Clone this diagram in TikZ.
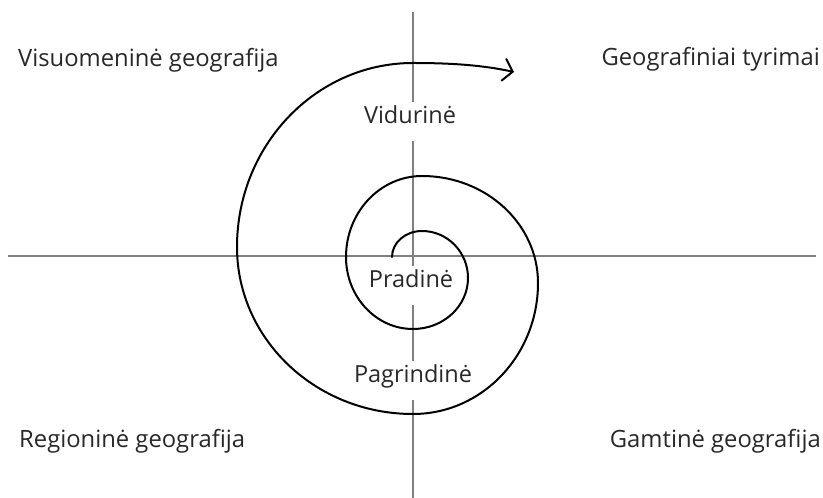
\documentclass[tikz,border=0pt]{standalone}
\usepackage{fontspec}
\setmainfont{Open Sans}
\usetikzlibrary{arrows.meta}
\definecolor{axisgray}{RGB}{128,128,128}
\definecolor{txt}{RGB}{40,40,40}
\begin{document}
\begin{tikzpicture}[x=1pt,y=1pt,
  axis/.style={draw=axisgray,line width=1.6pt},
  corner/.style={text=txt,font=\fontsize{23.8}{28}\selectfont,inner sep=0pt},
  level/.style={text=txt,font=\fontsize{23.5}{28}\selectfont,fill=white,inner xsep=4pt,inner ysep=5pt,text height=17pt,text depth=12pt},
  spiral/.style={draw=black,line width=2pt}
]
\useasboundingbox (0,0) rectangle (823,498);
% axes
\coordinate (hl) at (8,242);
\coordinate (hr) at (816,242);
\coordinate (vt) at (413,486);
\coordinate (vb) at (413,0);
\draw[axis] (hl) -- (hr);
\draw[axis] (vt) -- (vb);
% corner labels
\node[corner,anchor=base west] (vis) at (18,431) {Visuomeninė geografija};
\node[corner,anchor=base east] (geo) at (820,432) {Geografiniai tyrimai};
\node[corner,anchor=base west] (reg) at (19,50) {Regioninė geografija};
\node[corner,anchor=base east] (gam) at (821,50) {Gamtinė geografija};
% level labels
\node[level,anchor=base] (vid) at (410,374) {Vidurinė};
\node[level,anchor=base] (pra) at (411,210.3) {Pradinė};
\node[level,anchor=base] (pag) at (413,115) {Pagrindinė};
\draw[axis] (hl) -- (hr);
% spiral
\coordinate (s) at (392,241);
\coordinate (e) at (514,426);
\draw[spiral,-{Straight Barb[length=9pt,width=22pt,line cap=round]},line cap=round]
  (s) arc[start angle=180,end angle=90,x radius=30,y radius=26]
      arc[start angle=90,end angle=0,x radius=46,y radius=47]
      arc[start angle=0,end angle=-90,x radius=55,y radius=51]
      arc[start angle=-90,end angle=-180,x radius=67,y radius=72]
      arc[start angle=180,end angle=90,x radius=76,y radius=81]
      arc[start angle=90,end angle=0,x radius=116,y radius=107]
      arc[start angle=0,end angle=-90,x radius=125,y radius=131]
      arc[start angle=-90,end angle=-180,x radius=176,y radius=167]
      arc[start angle=180,end angle=90,x radius=176,y radius=184]
      .. controls (450,435) and (482,433) .. (e);
\end{tikzpicture}
\end{document}
